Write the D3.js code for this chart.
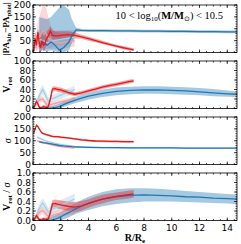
<!DOCTYPE html>
<html>
<head>
<script src="https://cdn.jsdelivr.net/npm/d3@7"></script>
<style>body { margin: 0; background: #fff } svg { display: block }</style>
</head>
<body>
<div id="chart"></div>
<script>
// radii (R/Re) for each sample
const redR   = [0.05,0.15,0.25,0.35,0.45,0.55,0.65,0.75,0.85,0.95,1.1,1.25,1.4,1.6,1.8,2.0,2.5,3.0,3.5,4.0,4.5,5.0,5.5,6.0,6.5,7.0,7.25];
const blueR  = [0.45,0.7,1.0,1.3,1.6,1.9,2.2,2.6,2.8,3.1,3.5,4,5,6,7,8,9,10,11,12,13,14,14.7];
const cyanR  = [0.3,0.5,0.7,0.9,1.1,1.3,1.5,2.0,2.5,3.0];
const pinkR  = [0.3,0.5,0.7,0.9,1.1,1.3,1.5,2.0,2.5,3.0];

// |PA_kin - PA_phot|
const redPA    = [5,60,30,85,40,20,50,30,35,55,70,90,72,70,70,72,75,72,66,58,50,42,34,27,20,14,11];
const redPAlo  = [0,20,5,50,10,0,20,5,10,30,50,70,55,55,55,57,60,60,58,50,43,36,28,21,14,8,5];
const redPAhi  = [40,90,70,100,80,60,90,70,75,85,95,110,95,90,90,90,90,85,75,66,58,49,41,33,27,21,18];
const bluePA   = [25,45,30,45,30,10,20,45,70,95,93,92,92,91,91,90,90,89,89,88,88,87,87];
const bluePAlo = [0,10,5,10,5,0,0,10,40,85,87,86,86,85,85,84,84,83,83,82,82,81,81];
const bluePAhi = [150,145,140,150,170,190,200,180,140,105,99,98,98,97,97,96,96,95,95,94,94,93,93];
const cyanPA   = [40,55,50,45,40,45,50,55,60,65];
const cyanPAlo = [10,20,20,15,15,20,25,30,35,40];
const cyanPAhi = [80,100,90,85,80,85,90,95,95,95];
const pinkPA   = [50,70,90,85,60,50,45,40,45,50];
const pinkPAlo = [10,25,40,35,20,15,15,15,20,25];
const pinkPAhi = [110,160,200,200,150,110,90,80,80,85];

// V_rot
const redV    = [0,8,15,10,3,0,2,4,3,2,4,20,41,42,40,39,34,30,33,37,41,45,48,51,54,57,58];
const redVlo  = [0,3,8,5,0,0,0,1,0,0,1,14,36,37,35,34,30,26,29,33,37,41,44,47,50,53,54];
const redVhi  = [4,13,21,15,7,4,6,8,7,6,8,26,46,47,45,44,39,34,37,41,45,49,52,55,58,61,62];
const blueV   = [0,0,0,1,2,4,8,13,15,18,22,26,32,36,38,39,39,38,37,35,33,31,30];
const blueVlo = [0,0,0,0,0,0,3,7,9,12,15,19,24,28,30,31,31,30,29,28,26,25,24];
const blueVhi = [3,3,4,5,7,10,14,19,22,25,29,33,40,44,46,47,47,46,45,43,41,38,36];
const cyanV   = [15,30,40,28,15,20,22,28,34,40];
const cyanVlo = [8,20,30,18,7,12,14,20,26,32];
const cyanVhi = [22,40,50,38,23,28,30,36,42,48];
const pinkV   = [15,18,20,12,5,8,10,14,17,20];
const pinkVlo = [9,12,14,6,1,3,5,9,12,15];
const pinkVhi = [21,24,26,18,10,13,15,19,22,25];

// sigma
const redS    = [130,150,165,160,150,140,133,130,128,126,124,121,118,117,117,115,112,108,104,101,99,98,97,97,96,96,96];
const redSlo  = [126,146,161,156,146,136,129,126,124,122,120,117,114,113,113,111,108,104,100,97,95,94,93,93,92,92,92];
const redShi  = [134,154,169,164,154,144,137,134,132,130,128,125,122,121,121,119,116,112,108,105,103,102,101,101,100,100,100];
const blueS   = [96,92,90,87,84,80,78,76,75,74,73,72,71,71,70,70,70,70,69,69,69,69,69];
const blueSlo = [92,88,86,83,80,76,74,72,71,70,69,68,68,67,67,67,67,67,66,66,66,66,66];
const blueShi = [100,96,94,91,88,84,82,80,79,78,77,76,74,74,73,73,73,73,72,72,72,72,72];
const cyanS   = [115,110,105,100,96,93,90,84,79,75];
const cyanSlo = [111,106,101,96,92,89,86,80,75,71];
const cyanShi = [119,114,109,104,100,97,94,88,83,79];
const pinkS   = [100,96,94,90,87,84,81,76,72,70];
const pinkSlo = [96,92,90,86,83,80,77,72,68,66];
const pinkShi = [104,100,98,94,91,88,85,80,76,74];

// V_rot / sigma
const redVS    = [0,0.05,0.1,0.06,0.02,0,0.01,0.03,0.02,0.02,0.03,0.17,0.35,0.36,0.34,0.33,0.3,0.28,0.31,0.36,0.41,0.45,0.48,0.51,0.53,0.55,0.56];
const redVSlo  = [0,0,0.04,0.01,0,0,0,0,0,0,0,0.1,0.27,0.28,0.25,0.24,0.2,0.17,0.21,0.27,0.32,0.36,0.4,0.43,0.45,0.47,0.48];
const redVShi  = [0.03,0.1,0.16,0.11,0.05,0.03,0.05,0.07,0.06,0.06,0.07,0.24,0.43,0.44,0.43,0.42,0.4,0.39,0.41,0.45,0.5,0.54,0.57,0.59,0.61,0.63,0.64];
const blueVS   = [0,0,0,0.01,0.03,0.06,0.11,0.17,0.2,0.25,0.3,0.36,0.45,0.5,0.53,0.54,0.53,0.52,0.5,0.49,0.47,0.46,0.45];
const blueVSlo = [0,0,0,0,0,0,0.02,0.07,0.1,0.14,0.18,0.22,0.3,0.35,0.38,0.4,0.4,0.4,0.39,0.38,0.37,0.36,0.35];
const blueVShi = [0.05,0.05,0.06,0.08,0.11,0.16,0.22,0.28,0.32,0.37,0.43,0.5,0.6,0.66,0.68,0.68,0.67,0.65,0.62,0.6,0.58,0.56,0.55];
const cyanVS   = [0.15,0.28,0.37,0.28,0.18,0.22,0.25,0.32,0.39,0.45];
const cyanVSlo = [0.07,0.18,0.27,0.18,0.1,0.13,0.15,0.22,0.28,0.33];
const cyanVShi = [0.23,0.38,0.47,0.38,0.27,0.31,0.35,0.43,0.5,0.57];
const pinkVS   = [0.12,0.18,0.21,0.15,0.08,0.1,0.12,0.16,0.19,0.21];
const pinkVSlo = [0.05,0.1,0.13,0.07,0.02,0.03,0.05,0.08,0.11,0.13];
const pinkVShi = [0.19,0.26,0.29,0.23,0.15,0.17,0.19,0.24,0.27,0.29];

const xTicks = [0,2,4,6,8,10,12,14];
const col = {red: '#e31a1c', blue: '#1f78b4', cyan: '#a6cee3', pink: '#fb9a99'};

const W = 241, H = 244;
const left = 33, right = 237;
const top0 = 5, ph = 47.5, gap = 8.5;

const svg = d3.select('#chart').append('svg').attr('width', W).attr('height', H);
const x = d3.scaleLinear().domain([0, 14.7]).range([left, right]);

const panels = [
  {dom: [0,200], major: [0,50,100,150,200], minor: 10, fmt: d => d,
   series: [
     ['pink', pinkR, pinkPA, pinkPAlo, pinkPAhi],
     ['cyan', cyanR, cyanPA, cyanPAlo, cyanPAhi],
     ['blue', blueR, bluePA, bluePAlo, bluePAhi],
     ['red', redR, redPA, redPAlo, redPAhi]]},
  {dom: [0,100], major: [0,20,40,60,80,100], minor: 5, fmt: d => d,
   series: [
     ['pink', pinkR, pinkV, pinkVlo, pinkVhi],
     ['cyan', cyanR, cyanV, cyanVlo, cyanVhi],
     ['blue', blueR, blueV, blueVlo, blueVhi],
     ['red', redR, redV, redVlo, redVhi]]},
  {dom: [0,200], major: [0,50,100,150,200], minor: 10, fmt: d => d,
   series: [
     ['pink', pinkR, pinkS, pinkSlo, pinkShi],
     ['cyan', cyanR, cyanS, cyanSlo, cyanShi],
     ['blue', blueR, blueS, blueSlo, blueShi],
     ['red', redR, redS, redSlo, redShi]]},
  {dom: [0,1], major: [0,0.2,0.4,0.6,0.8,1.0], minor: 0.05, fmt: d3.format('.1f'),
   series: [
     ['pink', pinkR, pinkVS, pinkVSlo, pinkVShi],
     ['cyan', cyanR, cyanVS, cyanVSlo, cyanVShi],
     ['blue', blueR, blueVS, blueVSlo, blueVShi],
     ['red', redR, redVS, redVSlo, redVShi]]}
];

panels.forEach((p, i) => {
  const t = top0 + i * (ph + gap), b = t + ph;
  const y = d3.scaleLinear().domain(p.dom).range([b, t]);
  const g = svg.append('g');
  const clipId = 'clip' + i;
  svg.append('clipPath').attr('id', clipId).append('rect')
    .attr('x', left).attr('y', t).attr('width', right - left).attr('height', ph);
  const plot = g.append('g').attr('clip-path', `url(#${clipId})`);

  p.series.forEach(([c, R, v, lo, hi]) => {
    const pts = R.map((r, k) => ({r, v: v[k], lo: lo[k], hi: hi[k]}));
    plot.append('path').datum(pts)
      .attr('d', d3.area().x(d => x(d.r)).y0(d => y(d.lo)).y1(d => y(d.hi)))
      .attr('fill', col[c]).attr('fill-opacity', 0.4);
  });
  p.series.forEach(([c, R, v]) => {
    const pts = R.map((r, k) => ({r, v: v[k]}));
    plot.append('path').datum(pts)
      .attr('d', d3.line().x(d => x(d.r)).y(d => y(d.v)))
      .attr('fill', 'none').attr('stroke', col[c]).attr('stroke-width', 1.3);
  });

  // frame
  g.append('rect').attr('x', left).attr('y', t).attr('width', right - left).attr('height', ph)
    .attr('fill', 'none').attr('stroke', '#000').attr('stroke-width', 0.8);

  // ticks pointing inward on all sides
  const minorY = d3.range(p.dom[0], p.dom[1] + p.minor / 2, p.minor);
  const tk = g.append('g').attr('stroke', '#000').attr('stroke-width', 0.7);
  minorY.forEach(v => {
    tk.append('line').attr('x1', left).attr('x2', left + 1.5).attr('y1', y(v)).attr('y2', y(v));
    tk.append('line').attr('x1', right).attr('x2', right - 1.5).attr('y1', y(v)).attr('y2', y(v));
  });
  p.major.forEach(v => {
    tk.append('line').attr('x1', left).attr('x2', left + 3).attr('y1', y(v)).attr('y2', y(v));
    tk.append('line').attr('x1', right).attr('x2', right - 3).attr('y1', y(v)).attr('y2', y(v));
  });
  d3.range(0, 14.7, 0.5).forEach(v => {
    tk.append('line').attr('x1', x(v)).attr('x2', x(v)).attr('y1', b).attr('y2', b - 1.5);
    tk.append('line').attr('x1', x(v)).attr('x2', x(v)).attr('y1', t).attr('y2', t + 1.5);
  });
  xTicks.forEach(v => {
    tk.append('line').attr('x1', x(v)).attr('x2', x(v)).attr('y1', b).attr('y2', b - 3);
    tk.append('line').attr('x1', x(v)).attr('x2', x(v)).attr('y1', t).attr('y2', t + 3);
  });

  g.selectAll('text.yt').data(p.major).join('text')
    .attr('x', left - 2).attr('y', d => y(d)).attr('dy', '0.35em')
    .attr('text-anchor', 'end').attr('font-family', 'DejaVu Sans').attr('font-size', 9)
    .text(p.fmt);

  if (i === 3) {
    g.selectAll('text.xt').data(xTicks).join('text')
      .attr('x', d => x(d)).attr('y', b + 10)
      .attr('text-anchor', 'middle').attr('font-family', 'DejaVu Sans').attr('font-size', 9)
      .text(d => d);
  }
  p.t = t; p.b = b;
});

// axis labels
const serif = 'Liberation Serif';
function ylab(cx, cy, size, parts) {
  const tx = svg.append('text').attr('transform', `translate(${cx},${cy}) rotate(-90)`)
    .attr('text-anchor', 'middle').attr('font-family', serif).attr('font-weight', 'bold').attr('font-size', size);
  parts.forEach(([s, sub, it]) => {
    const sp = tx.append('tspan').text(s);
    if (sub) sp.attr('dy', sub);
    if (sub > 0) sp.attr('font-size', size * 0.68);
    if (it) sp.attr('font-style', 'italic').attr('font-weight', 'normal');
  });
}
ylab(9, (panels[0].t + panels[0].b) / 2, 9.2, [['|PA'], ['kin', 2], ['\u2212PA', -2], ['phot', 2], ['|', -2]]);
ylab(10, (panels[1].t + panels[1].b) / 2, 10, [['V'], ['rot', 2]]);
ylab(11, (panels[2].t + panels[2].b) / 2, 10, [['\u03c3', null, true]]);
ylab(10, (panels[3].t + panels[3].b) / 2, 10, [['V'], ['rot', 2], [' / ', -2], ['\u03c3', null, true]]);

const xl = svg.append('text').attr('x', (left + right) / 2).attr('y', 241)
  .attr('text-anchor', 'middle').attr('font-family', serif).attr('font-weight', 'bold').attr('font-size', 10);
xl.append('tspan').text('R/R');
xl.append('tspan').text('e').attr('font-size', 7).attr('dy', 2);

// title in top panel
const tt = svg.append('text').attr('x', 223).attr('y', 19)
  .attr('text-anchor', 'end').attr('font-family', serif).attr('font-size', 10.5);
tt.append('tspan').text('10 < log');
tt.append('tspan').text('10').attr('font-size', 7).attr('dy', 2);
tt.append('tspan').text('(').attr('dy', -2);
tt.append('tspan').text('M/M').attr('font-weight', 'bold');
tt.append('tspan').text('\u2299').attr('font-size', 7).attr('dy', 2);
tt.append('tspan').text(') < 10.5').attr('dy', -2);
</script>
</body>
</html>
